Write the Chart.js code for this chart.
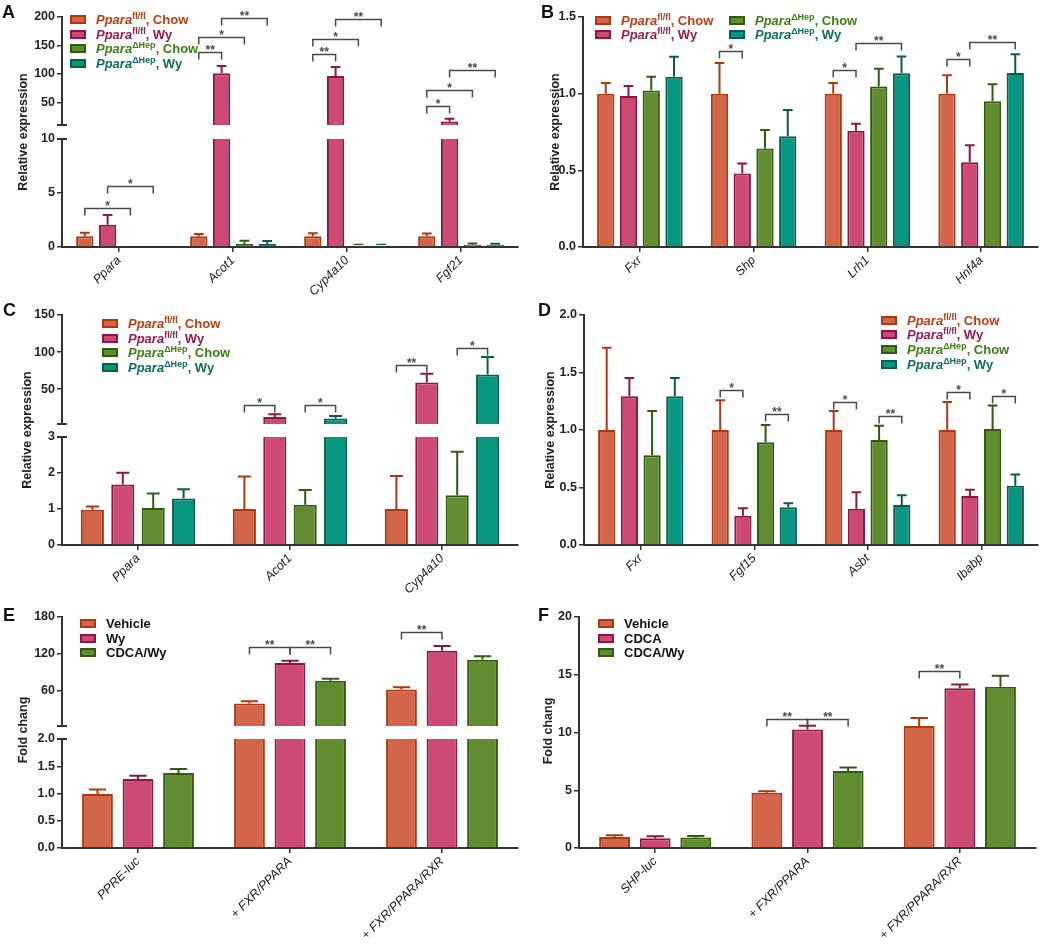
<!DOCTYPE html>
<html>
<head>
<meta charset="utf-8">
<script src="https://cdn.jsdelivr.net/npm/chart.js@4.4.1/dist/chart.umd.min.js"></script>
<style>
  body { margin: 0; background: #fff; }
  #fig { position: relative; width: 1050px; height: 945px; overflow: hidden; font-family: Arial, 'Liberation Sans', sans-serif; }
  #fig canvas { position: absolute; }
  .panel-letter { position: absolute; font-size: 18px; line-height: 18px; font-weight: bold; color: #111; }
  .ytitle { position: absolute; font-size: 12.5px; font-weight: bold; color: #222; white-space: nowrap; transform: translate(-50%, -50%) rotate(-90deg); }
  .legend { position: absolute; font-size: 13px; font-weight: bold; z-index: 2; }
  .legend .row { display: flex; align-items: center; height: 14.7px; white-space: nowrap; }
  .legend .sw { display: inline-block; width: 12px; height: 5px; border: 2px solid; margin-right: 10px; flex: none; }
  .legend .sup { font-size: 9px; position: relative; top: -5px; font-style: normal; }
</style>
</head>
<body>
<div id="fig"></div>
<script>
// ═══════════════════════════════════════════════════════════════
// DATA
// ═══════════════════════════════════════════════════════════════

// mouse groups (panels A-D)
const geneName = 'Ppara';
const groupSup = ['fl/fl', 'fl/fl', 'ΔHep', 'ΔHep'];
const groupDiet = ['Chow', 'Wy', 'Chow', 'Wy'];

// A - liver
const genesA = ['Ppara', 'Acot1', 'Cyp4a10', 'Fgf21'];
const aFlChow = [1.0, 1.0, 1.0, 1.0];
const aFlChowErr = [0.33, 0.2, 0.28, 0.25];
const aFlWy = [2.06, 101, 96, 16];
const aFlWyErr = [0.9, 13, 16, 5];
const aHepChow = [null, 0.28, 0.12, 0.2];
const aHepChowErr = [0, 0.3, 0.08, 0.12];
const aHepWy = [null, 0.28, 0.12, 0.2];
const aHepWyErr = [0, 0.27, 0.08, 0.1];
const aUpperRange = [10, 200];
const aUpperTicks = [50, 100, 150, 200];
const aLowerRange = [0, 10];
const aLowerTicks = [0, 5, 10];
// [category, from series, to series, height, mark]
const aBracketsUpper = [
  [1, 0, 1, 138, '**'], [1, 0, 2, 165, '*'], [1, 1, 3, 198, '**'],
  [2, 0, 1, 135, '**'], [2, 0, 2, 161, '*'], [2, 1, 3, 197, '**'],
  [3, 0, 1, 43, '*'], [3, 0, 2, 72, '*'], [3, 1, 3, 107, '**']
];
const aBracketsLower = [[0, 0, 2, 3.6, '*'], [0, 1, 3, 5.65, '*']];

// B - liver
const genesB = ['Fxr', 'Shp', 'Lrh1', 'Hnf4a'];
const bFlChow = [1.0, 1.0, 1.0, 1.0];
const bFlChowErr = [0.07, 0.2, 0.07, 0.12];
const bFlWy = [0.985, 0.48, 0.758, 0.553];
const bFlWyErr = [0.065, 0.065, 0.045, 0.11];
const bHepChow = [1.02, 0.643, 1.046, 0.951];
const bHepChowErr = [0.09, 0.12, 0.117, 0.11];
const bHepWy = [1.11, 0.723, 1.133, 1.135];
const bHepWyErr = [0.13, 0.17, 0.11, 0.122];
const bRange = [0, 1.5];
const bTicks = [0, 0.5, 1.0, 1.5];
const bBrackets = [
  [1, 0, 1, 1.276, '*'], [2, 0, 1, 1.157, '*'], [2, 1, 3, 1.33, '**'],
  [3, 0, 1, 1.228, '*'], [3, 1, 3, 1.337, '**']
];

// C - intestine
const genesC = ['Ppara', 'Acot1', 'Cyp4a10'];
const cFlChow = [0.98, 1.0, 1.0];
const cFlChowErr = [0.09, 0.9, 0.92];
const cFlWy = [1.68, 12.6, 59];
const cFlWyErr = [0.33, 3.6, 11.7];
const cHepChow = [1.03, 1.12, 1.38];
const cHepChowErr = [0.4, 0.41, 1.21];
const cHepWy = [1.29, 10.3, 69.7];
const cHepWyErr = [0.26, 3.6, 23.5];
const cUpperRange = [3, 150];
const cUpperTicks = [50, 100, 150];
const cLowerRange = [0, 3];
const cLowerTicks = [0, 1, 2, 3];
const cBracketsUpper = [
  [1, 0, 1, 28.4, '*'], [1, 2, 3, 28, '*'],
  [2, 0, 1, 82.8, '**'], [2, 2, 3, 105, '*']
];

// D - intestine
const genesD = ['Fxr', 'Fgf15', 'Asbt', 'Ibabp'];
const dFlChow = [1.0, 1.0, 1.0, 1.0];
const dFlChowErr = [0.716, 0.258, 0.165, 0.243];
const dFlWy = [1.293, 0.255, 0.316, 0.426];
const dFlWyErr = [0.159, 0.064, 0.142, 0.055];
const dHepChow = [0.78, 0.893, 0.913, 1.009];
const dHepChowErr = [0.385, 0.15, 0.125, 0.203];
const dHepWy = [1.293, 0.328, 0.348, 0.516];
const dHepWyErr = [0.159, 0.034, 0.084, 0.096];
const dRange = [0, 2];
const dTicks = [0, 0.5, 1.0, 1.5, 2.0];
const dBrackets = [
  [1, 0, 1, 1.348, '*'], [1, 2, 3, 1.136, '**'],
  [2, 0, 1, 1.243, '*'], [2, 2, 3, 1.122, '**'],
  [3, 0, 1, 1.33, '*'], [3, 2, 3, 1.293, '*']
];

// E - PPRE-luc
const constructsE = ['PPRE-luc', '+ FXR/PPARA', '+ FXR/PPARA/RXR'];
const treatE = ['Vehicle', 'Wy', 'CDCA/Wy'];
const eVehicle = [0.99, 38.6, 61.6];
const eVehicleErr = [0.084, 3.8, 3.8];
const eWy = [1.264, 104.9, 124.9];
const eWyErr = [0.061, 3.8, 7.7];
const eCdcaWy = [1.374, 75.8, 110];
const eCdcaWyErr = [0.074, 3.2, 6];
const eUpperRange = [2, 180];
const eUpperTicks = [60, 120, 180];
const eLowerRange = [0, 2];
const eLowerTicks = [0, 0.5, 1.0, 1.5, 2.0];
const eBracketsUpper = [[1, 0, 1, 131, '**'], [1, 1, 2, 131, '**'], [2, 0, 1, 155, '**']];

// F - SHP-luc
const constructsF = ['SHP-luc', '+ FXR/PPARA', '+ FXR/PPARA/RXR'];
const treatF = ['Vehicle', 'CDCA', 'CDCA/Wy'];
const fVehicle = [0.955, 4.78, 10.56];
const fVehicleErr = [0.145, 0.14, 0.7];
const fCdca = [0.84, 10.27, 13.84];
const fCdcaErr = [0.17, 0.32, 0.32];
const fCdcaWy = [0.9, 6.66, 13.96];
const fCdcaWyErr = [0.14, 0.32, 0.96];
const fRange = [0, 20];
const fTicks = [0, 5, 10, 15, 20];
const fBrackets = [[1, 0, 1, 11.2, '**'], [1, 1, 2, 11.2, '**'], [2, 0, 1, 15.34, '**']];

// ═══════════════════════════════════════════════════════════════
// STYLE
// ═══════════════════════════════════════════════════════════════

const FONT = "Arial, 'Liberation Sans', sans-serif";
const AXIS = '#333333';
const COLORS = {
  fill: ['#d3654b', '#cc4a73', '#618d30', '#079780'],
  line: ['#b0380f', '#8c1744', '#2f5c12', '#0b5c4c'],
  text: ['#bf3a12', '#9a1a4f', '#3e7d16', '#0c6f5b']
};
const PADL = 58, PADT = 14, PADR = 10;

Chart.defaults.font.family = FONT;
const fig = document.getElementById('fig');

// ═══════════════════════════════════════════════════════════════
// PLUGINS
// ═══════════════════════════════════════════════════════════════

const errBarPlugin = {
  id: 'errBars',
  afterDatasetsDraw(chart) {
    const { ctx, chartArea: a, scales: { y } } = chart;
    ctx.save();
    // keep caps of bars that sit below a broken segment out of view
    ctx.beginPath();
    ctx.rect(a.left, a.top - 1, a.right - a.left, a.bottom - a.top - 1);
    ctx.clip();
    chart.data.datasets.forEach((ds, i) => {
      const meta = chart.getDatasetMeta(i);
      ctx.strokeStyle = ds.borderColor;
      ctx.lineWidth = 2;
      meta.data.forEach((bar, j) => {
        const v = ds.data[j], e = ds.errors[j];
        if (v == null || !e) return;
        const top = y.getPixelForValue(v + e);
        const base = y.getPixelForValue(v);
        if (top > a.bottom - 1) return;
        const half = bar.width * 0.28;
        ctx.beginPath();
        ctx.moveTo(bar.x, base);
        ctx.lineTo(bar.x, top);
        ctx.moveTo(bar.x - half, top);
        ctx.lineTo(bar.x + half, top);
        ctx.stroke();
      });
    });
    ctx.restore();
  }
};

const bracketPlugin = {
  id: 'brackets',
  afterDraw(chart, args, opts) {
    const list = opts.list || [];
    const { ctx, scales: { y } } = chart;
    ctx.save();
    ctx.strokeStyle = '#4a4a4a';
    ctx.fillStyle = '#4a4a4a';
    ctx.lineWidth = 1.5;
    ctx.font = 'bold 12px ' + FONT;
    ctx.textAlign = 'center';
    ctx.textBaseline = 'alphabetic';
    list.forEach(([cat, from, to, val, mark]) => {
      const x1 = chart.getDatasetMeta(from).data[cat].x;
      const x2 = chart.getDatasetMeta(to).data[cat].x;
      const yy = Math.round(y.getPixelForValue(val)) + 0.5;
      ctx.beginPath();
      ctx.moveTo(x1, yy + 7);
      ctx.lineTo(x1, yy);
      ctx.lineTo(x2, yy);
      ctx.lineTo(x2, yy + 7);
      ctx.stroke();
      ctx.fillText(mark, (x1 + x2) / 2, yy + 1);
    });
    ctx.restore();
  }
};

const breakPlugin = {
  id: 'breakMarks',
  afterDraw(chart, args, opts) {
    const { ctx, chartArea: a } = chart;
    ctx.save();
    ctx.strokeStyle = AXIS;
    ctx.lineWidth = 2;
    [['top', a.top], ['bottom', a.bottom]].forEach(([k, yy]) => {
      if (!opts[k]) return;
      ctx.beginPath();
      ctx.moveTo(a.left - 5, yy);
      ctx.lineTo(a.left + 5, yy);
      ctx.stroke();
    });
    ctx.restore();
  }
};

// ═══════════════════════════════════════════════════════════════
// BUILDERS
// ═══════════════════════════════════════════════════════════════

function makeChart(o) {
  const cv = document.createElement('canvas');
  const xh = o.showX ? o.xAxisH : 0;
  const padB = o.showX ? 0 : 4;
  cv.width = (o.rect.r - o.rect.l) + PADL + PADR;
  cv.height = (o.rect.b - o.rect.t) + PADT + xh + padB;
  cv.style.left = (o.rect.l - PADL) + 'px';
  cv.style.top = (o.rect.t - PADT) + 'px';
  fig.appendChild(cv);

  return new Chart(cv, {
    type: 'bar',
    data: {
      labels: o.labels,
      datasets: o.series.map(s => ({
        label: s.label,
        data: s.data,
        errors: s.err,
        backgroundColor: COLORS.fill[s.c],
        borderColor: COLORS.line[s.c],
        borderWidth: 2,
        borderSkipped: 'start',
        clip: 0,
        categoryPercentage: 0.8,
        barPercentage: 0.76
      }))
    },
    options: {
      responsive: false,
      animation: false,
      devicePixelRatio: 1,
      layout: { padding: { top: PADT, right: PADR, left: 0, bottom: padB } },
      plugins: {
        legend: { display: false },
        tooltip: { enabled: false },
        brackets: { list: o.brackets || [] },
        breakMarks: { top: !!o.breakTop, bottom: !!o.breakBottom }
      },
      scales: {
        x: {
          display: o.showX,
          offset: true,
          grid: { display: true, offset: false, drawOnChartArea: false, drawTicks: true, tickLength: 5, color: AXIS, lineWidth: 1.5 },
          border: { display: true, color: AXIS, width: 2 },
          ticks: {
            minRotation: 45, maxRotation: 45, autoSkip: false, padding: 1,
            color: '#1a1a1a', font: { family: FONT, size: 12.5, style: 'italic' }
          },
          afterFit: s => { s.height = xh; s.paddingLeft = 0; s.paddingRight = 0; }
        },
        y: {
          min: o.range[0],
          max: o.range[1],
          grid: { display: true, drawOnChartArea: false, drawTicks: true, tickLength: 5, color: AXIS, lineWidth: 1.5 },
          border: { display: true, color: AXIS, width: 2 },
          ticks: {
            padding: 2, color: '#222',
            font: { family: FONT, size: 12.5, weight: 'bold' },
            callback: v => Number(v).toFixed(o.decimals)
          },
          afterBuildTicks: s => { s.ticks = o.ticks.map(v => ({ value: v })); },
          afterFit: s => { s.width = PADL; s.paddingTop = 0; s.paddingBottom = 0; }
        }
      }
    },
    plugins: [errBarPlugin, bracketPlugin, breakPlugin]
  });
}

function addLetter(txt, left, top) {
  const d = document.createElement('div');
  d.className = 'panel-letter';
  d.style.left = left + 'px';
  d.style.top = top + 'px';
  d.textContent = txt;
  fig.appendChild(d);
}

function addYTitle(txt, cx, cy) {
  const d = document.createElement('div');
  d.className = 'ytitle';
  d.style.left = cx + 'px';
  d.style.top = cy + 'px';
  d.textContent = txt;
  fig.appendChild(d);
}

function addLegend(left, top, rows) {
  const box = document.createElement('div');
  box.className = 'legend';
  box.style.left = left + 'px';
  box.style.top = top + 'px';
  box.innerHTML = rows.map(r =>
    `<div class="row" style="color:${r.color}"><span class="sw" style="background:${COLORS.fill[r.c]};border-color:${COLORS.line[r.c]}"></span><span>${r.html}</span></div>`
  ).join('');
  fig.appendChild(box);
}

const mouseLabel = i => `<i>${geneName}</i><span class="sup">${groupSup[i]}</span>, ${groupDiet[i]}`;
const mouseRow = i => ({ c: i, color: COLORS.text[i], html: mouseLabel(i) });
const mouseText = i => `${geneName} ${groupSup[i]}, ${groupDiet[i]}`;

function mouseSeries(vals) {
  // vals: [[data, err] x 4]
  return vals.map(([data, err], i) => ({ label: mouseText(i), data, err, c: i }));
}

// ═══════════════════════════════════════════════════════════════
// PANELS
// ═══════════════════════════════════════════════════════════════

// A
const seriesA = mouseSeries([[aFlChow, aFlChowErr], [aFlWy, aFlWyErr], [aHepChow, aHepChowErr], [aHepWy, aHepWyErr]]);
makeChart({ rect: { l: 62, r: 518, t: 17, b: 125 }, labels: genesA, series: seriesA, range: aUpperRange, ticks: aUpperTicks, decimals: 0, showX: false, brackets: aBracketsUpper, breakBottom: true });
makeChart({ rect: { l: 62, r: 518, t: 139, b: 247 }, labels: genesA, series: seriesA, range: aLowerRange, ticks: aLowerTicks, decimals: 0, showX: true, xAxisH: 55, brackets: aBracketsLower, breakTop: true });

// B
const seriesB = mouseSeries([[bFlChow, bFlChowErr], [bFlWy, bFlWyErr], [bHepChow, bHepChowErr], [bHepWy, bHepWyErr]]);
makeChart({ rect: { l: 583, r: 1038, t: 17, b: 247 }, labels: genesB, series: seriesB, range: bRange, ticks: bTicks, decimals: 1, showX: true, xAxisH: 55, brackets: bBrackets });

// C
const seriesC = mouseSeries([[cFlChow, cFlChowErr], [cFlWy, cFlWyErr], [cHepChow, cHepChowErr], [cHepWy, cHepWyErr]]);
makeChart({ rect: { l: 62, r: 518, t: 315, b: 424 }, labels: genesC, series: seriesC, range: cUpperRange, ticks: cUpperTicks, decimals: 0, showX: false, brackets: cBracketsUpper, breakBottom: true });
makeChart({ rect: { l: 62, r: 518, t: 437, b: 545 }, labels: genesC, series: seriesC, range: cLowerRange, ticks: cLowerTicks, decimals: 0, showX: true, xAxisH: 55, breakTop: true });

// D
const seriesD = mouseSeries([[dFlChow, dFlChowErr], [dFlWy, dFlWyErr], [dHepChow, dHepChowErr], [dHepWy, dHepWyErr]]);
makeChart({ rect: { l: 584, r: 1038, t: 315, b: 545 }, labels: genesD, series: seriesD, range: dRange, ticks: dTicks, decimals: 1, showX: true, xAxisH: 55, brackets: dBrackets });

// E
const seriesE = [[eVehicle, eVehicleErr], [eWy, eWyErr], [eCdcaWy, eCdcaWyErr]]
  .map(([data, err], i) => ({ label: treatE[i], data, err, c: i }));
makeChart({ rect: { l: 62, r: 518, t: 617, b: 726 }, labels: constructsE, series: seriesE, range: eUpperRange, ticks: eUpperTicks, decimals: 0, showX: false, brackets: eBracketsUpper, breakBottom: true });
makeChart({ rect: { l: 62, r: 518, t: 739, b: 848 }, labels: constructsE, series: seriesE, range: eLowerRange, ticks: eLowerTicks, decimals: 1, showX: true, xAxisH: 97, breakTop: true });

// F
const seriesF = [[fVehicle, fVehicleErr], [fCdca, fCdcaErr], [fCdcaWy, fCdcaWyErr]]
  .map(([data, err], i) => ({ label: treatF[i], data, err, c: i }));
makeChart({ rect: { l: 579, r: 1036, t: 617, b: 848 }, labels: constructsF, series: seriesF, range: fRange, ticks: fTicks, decimals: 0, showX: true, xAxisH: 97, brackets: fBrackets });

// ═══════════════════════════════════════════════════════════════
// TEXT: letters, axis titles, legends
// ═══════════════════════════════════════════════════════════════

addLetter('A', 2, 3);
addLetter('B', 541, 3);
addLetter('C', 3, 301);
addLetter('D', 538, 301);
addLetter('E', 3, 606);
addLetter('F', 538, 606);

addYTitle('Relative expression', 23, 132);
addYTitle('Relative expression', 555, 132);
addYTitle('Relative expression', 27, 430);
addYTitle('Relative expression', 550, 430);
addYTitle('Fold chang', 23, 730);
addYTitle('Fold chang', 548, 731);

addLegend(70, 12, [0, 1, 2, 3].map(mouseRow));
addLegend(595, 12.7, [0, 1].map(mouseRow));
addLegend(729, 12.7, [2, 3].map(mouseRow));
addLegend(102, 316, [0, 1, 2, 3].map(mouseRow));
addLegend(881, 312.7, [0, 1, 2, 3].map(mouseRow));
addLegend(80, 616, treatE.map((t, i) => ({ c: i, color: '#111', html: t })));
addLegend(598, 616, treatF.map((t, i) => ({ c: i, color: '#111', html: t })));
</script>
</body>
</html>
